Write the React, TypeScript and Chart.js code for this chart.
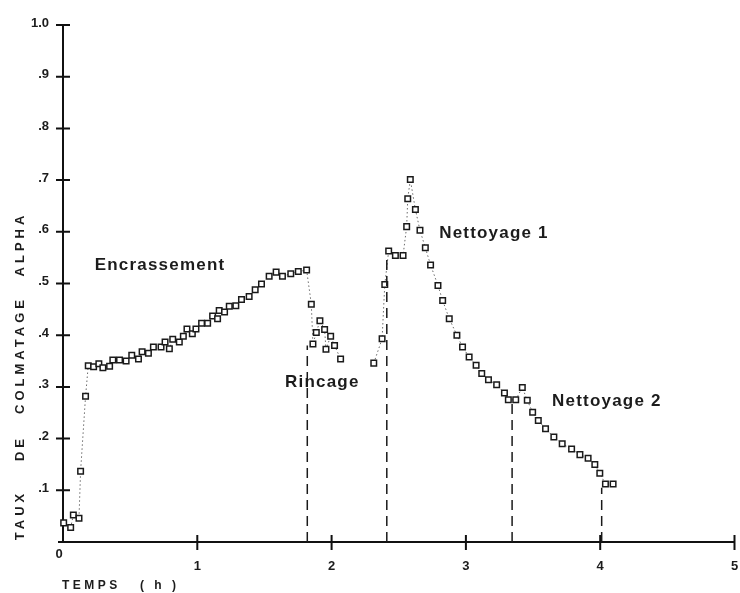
import React, { useEffect, useRef } from "react";
import { Chart, registerables } from "chart.js";

Chart.register(...registerables);

// ---- Data: run 1 (Encrassement + Rincage) ----
const temps1 = [
  0.005, 0.057, 0.077, 0.119, 0.131, 0.168, 0.188, 0.228, 0.267, 0.297,
  0.347, 0.371, 0.421, 0.47, 0.512, 0.562, 0.589, 0.636, 0.673, 0.73,
  0.76, 0.792, 0.817, 0.866, 0.896, 0.923, 0.963, 0.99, 1.032, 1.077,
  1.114, 1.151, 1.163, 1.203, 1.238, 1.287, 1.329, 1.386, 1.431, 1.478,
  1.535, 1.587, 1.634, 1.696, 1.752, 1.814, 1.849, 1.861, 1.886, 1.913,
  1.948, 1.958, 1.993, 2.022, 2.067,
];
const alpha1 = [
  0.037, 0.028, 0.052, 0.046, 0.137, 0.282, 0.341, 0.339, 0.345, 0.337,
  0.34, 0.352, 0.352, 0.35, 0.361, 0.354, 0.368, 0.365, 0.377, 0.377,
  0.387, 0.374, 0.392, 0.387, 0.398, 0.412, 0.403, 0.412, 0.423, 0.423,
  0.437, 0.432, 0.448, 0.445, 0.456, 0.457, 0.469, 0.475, 0.488, 0.499,
  0.514, 0.522, 0.514, 0.519, 0.523, 0.526, 0.46, 0.383, 0.405, 0.428,
  0.411, 0.373, 0.398, 0.38, 0.354,
];

// ---- Data: run 2 (Nettoyage 1 + Nettoyage 2) ----
const temps2 = [
  2.314, 2.376, 2.396, 2.425, 2.475, 2.532, 2.559, 2.567, 2.586, 2.624,
  2.658, 2.698, 2.737, 2.792, 2.827, 2.876, 2.933, 2.975, 3.024, 3.076,
  3.118, 3.168, 3.229, 3.287, 3.316, 3.371, 3.42, 3.457, 3.497, 3.539,
  3.593, 3.655, 3.717, 3.787, 3.849, 3.91, 3.96, 3.997, 4.039, 4.096,
];
const alpha2 = [
  0.346, 0.393, 0.498, 0.563, 0.554, 0.554, 0.61, 0.664, 0.701, 0.643,
  0.603, 0.569, 0.536, 0.496, 0.467, 0.432, 0.4, 0.377, 0.358, 0.342,
  0.326, 0.314, 0.304, 0.288, 0.275, 0.275, 0.299, 0.274, 0.251, 0.235,
  0.219, 0.203, 0.19, 0.18, 0.169, 0.162, 0.15, 0.133, 0.112, 0.112,
];

// ---- Vertical dashed phase markers ----
const dashTimes = [1.819, 2.411, 3.344, 4.011];
const dashTops = [0.38, 0.555, 0.272, 0.105];

// ---- Ticks ----
const xTickValues = [1, 2, 3, 4, 5];
const xTickLabels = ["1", "2", "3", "4", "5"];
const yTickValues = [0.1, 0.2, 0.3, 0.4, 0.5, 0.6, 0.7, 0.8, 0.9, 1.0];
const yTickLabels = [".1", ".2", ".3", ".4", ".5", ".6", ".7", ".8", ".9", "1.0"];
const originLabel = "0";

// ---- Annotations (anchored in data units) ----
const phaseLabels = ["Encrassement", "Rincage", "Nettoyage 1", "Nettoyage 2"];
const phaseT = [0.236, 1.653, 2.801, 3.642];
const phaseAlpha = [0.535, 0.309, 0.598, 0.273];

// ---- Axis titles ----
const xTitleWords = ["TEMPS", "( h )"];
const yTitleWords = ["TAUX", "DE", "COLMATAGE", "ALPHA"];

// layout constants (pixels)
const xTitleLeft = [62, 140];
const yTitleCenters = [517, 450, 357, 246];

const FONT = '"Liberation Sans", Arial, Helvetica, sans-serif';
const INK = "#1c1c1c";

const decoPlugin = {
  id: "deco",
  beforeDatasetsDraw(chart: any) {
    const { ctx } = chart;
    const xs = chart.scales.x;
    const ys = chart.scales.y;
    const x0 = xs.getPixelForValue(0);
    const y0 = ys.getPixelForValue(0);
    ctx.save();
    ctx.strokeStyle = "#111";
    ctx.lineWidth = 2;
    ctx.beginPath();
    ctx.moveTo(x0, ys.getPixelForValue(1));
    ctx.lineTo(x0, y0 + 1);
    ctx.moveTo(x0 - 1, y0);
    ctx.lineTo(xs.getPixelForValue(5), y0);
    yTickValues.forEach((v) => {
      const py = ys.getPixelForValue(v);
      ctx.moveTo(x0 - 7, py);
      ctx.lineTo(x0 + 7, py);
    });
    xTickValues.forEach((v) => {
      const px = xs.getPixelForValue(v);
      ctx.moveTo(px, y0 - 7);
      ctx.lineTo(px, y0 + 8);
    });
    ctx.moveTo(x0 - 5, y0);
    ctx.lineTo(x0 + 1, y0);
    ctx.stroke();
    ctx.restore();
  },
  afterDraw(chart: any) {
    const { ctx } = chart;
    const xs = chart.scales.x;
    const ys = chart.scales.y;
    const x0 = xs.getPixelForValue(0);
    const y0 = ys.getPixelForValue(0);
    ctx.save();
    ctx.fillStyle = INK;
    // tick labels
    ctx.font = `bold 13px ${FONT}`;
    ctx.textBaseline = "middle";
    ctx.textAlign = "right";
    yTickValues.forEach((v, i) => {
      ctx.fillText(yTickLabels[i], x0 - 14, ys.getPixelForValue(v) - 2);
    });
    ctx.textAlign = "center";
    ctx.fillText(originLabel, x0 - 4, y0 + 12);
    xTickValues.forEach((v, i) => {
      ctx.fillText(xTickLabels[i], xs.getPixelForValue(v), y0 + 24);
    });
    // x title
    ctx.textAlign = "left";
    ctx.font = `bold 12px ${FONT}`;
    (ctx as any).letterSpacing = "3.5px";
    xTitleWords.forEach((w, i) => {
      ctx.fillText(w, xTitleLeft[i], y0 + 44);
    });
    // y title
    ctx.font = `bold 13px ${FONT}`;
    (ctx as any).letterSpacing = "4px";
    ctx.textAlign = "center";
    yTitleWords.forEach((w, i) => {
      ctx.save();
      ctx.translate(20, yTitleCenters[i]);
      ctx.rotate(-Math.PI / 2);
      ctx.fillText(w, 2, 0);
      ctx.restore();
    });
    // phase annotations
    ctx.font = `bold 17px ${FONT}`;
    (ctx as any).letterSpacing = "1.2px";
    ctx.textAlign = "left";
    phaseLabels.forEach((t, i) => {
      ctx.fillText(t, xs.getPixelForValue(phaseT[i]), ys.getPixelForValue(phaseAlpha[i]));
    });
    ctx.restore();
  },
};

export default function App() {
  const canvasRef = useRef<HTMLCanvasElement | null>(null);

  useEffect(() => {
    document.body.style.margin = "0";
    document.body.style.background = "#ffffff";
    const canvas = canvasRef.current;
    if (!canvas) return;

    const pointStyle = {
      showLine: true,
      borderColor: "#6a6a6a",
      borderWidth: 1,
      borderDash: [1.5, 2.5],
      pointStyle: "rect" as const,
      pointRadius: 3.9,
      pointBorderWidth: 1.5,
      pointBorderColor: "#1a1a1a",
      pointBackgroundColor: "#ffffff",
      clip: false as const,
    };

    const dashSets = dashTimes.map((t, i) => ({
      data: [
        { x: t, y: 0 },
        { x: t, y: dashTops[i] },
      ],
      showLine: true,
      borderColor: "#1a1a1a",
      borderWidth: 1.5,
      borderDash: [10, 6],
      pointRadius: 0,
      clip: false as const,
    }));

    const chart = new Chart(canvas, {
      type: "scatter",
      data: {
        datasets: [
          ...dashSets,
          { ...pointStyle, data: temps1.map((t, i) => ({ x: t, y: alpha1[i] })) },
          { ...pointStyle, data: temps2.map((t, i) => ({ x: t, y: alpha2[i] })) },
        ],
      },
      options: {
        responsive: false,
        animation: false,
        events: [],
        layout: { padding: { left: 63, top: 25, right: 3, bottom: 51 } },
        scales: {
          x: { type: "linear", min: 0, max: 5, display: false },
          y: { type: "linear", min: 0, max: 1, display: false },
        },
        plugins: {
          legend: { display: false },
          tooltip: { enabled: false },
        },
      },
      plugins: [decoPlugin],
    });

    return () => chart.destroy();
  }, []);

  return (
    <div style={{ width: 740, height: 593, background: "#fff" }}>
      <canvas ref={canvasRef} width={740} height={593} style={{ display: "block" }} />
    </div>
  );
}
